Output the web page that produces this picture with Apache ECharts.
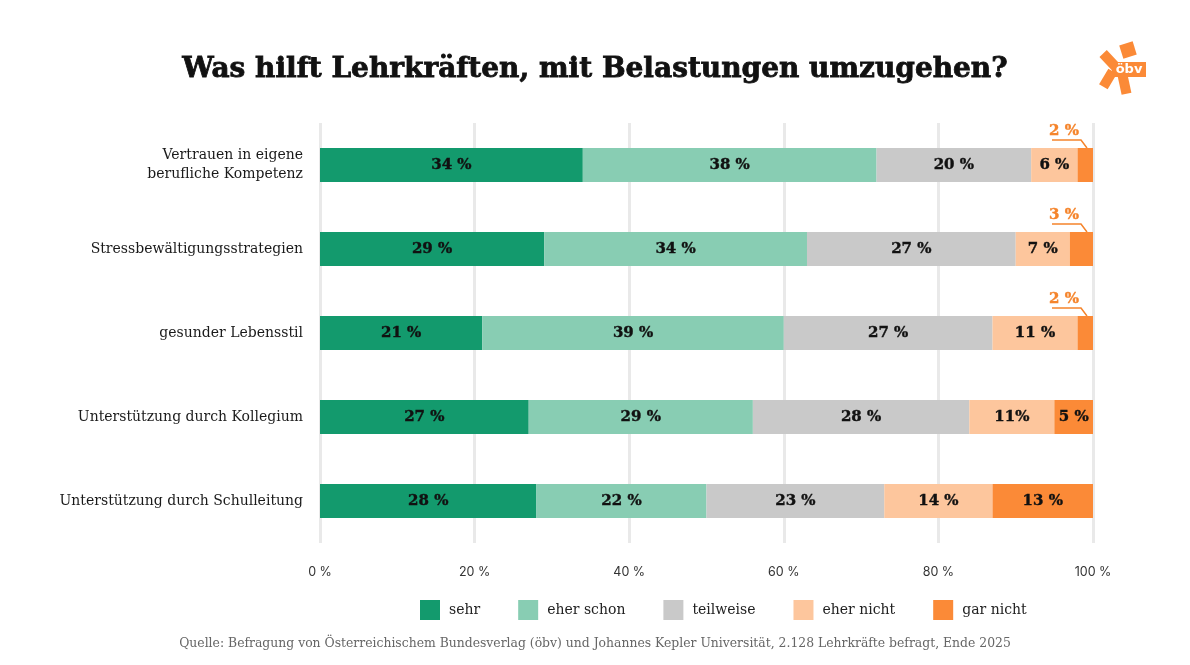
<!DOCTYPE html>
<html>
<head>
<meta charset="utf-8">
<script src="https://cdn.jsdelivr.net/npm/echarts@6/dist/echarts.min.js"></script>
<style>
  html, body { margin: 0; padding: 0; background: #fff; }
  #chart { width: 1190px; height: 665px; }
</style>
</head>
<body>
<div id="chart"></div>
<script>
// --- Daten ---
const categories = [
  'Vertrauen in eigene\nberufliche Kompetenz',
  'Stressbewältigungsstrategien',
  'gesunder Lebensstil',
  'Unterstützung durch Kollegium',
  'Unterstützung durch Schulleitung'
];
const seriesNames = ['sehr', 'eher schon', 'teilweise', 'eher nicht', 'gar nicht'];
const sehr = [34, 29, 21, 27, 28];
const eherSchon = [38, 34, 39, 29, 22];
const teilweise = [20, 27, 27, 28, 23];
const eherNicht = [6, 7, 11, 11, 14];
const garNicht = [2, 3, 2, 5, 13];
const xTicks = [0, 20, 40, 60, 80, 100];
// Zeilen, deren "gar nicht"-Wert außerhalb des Balkens beschriftet wird
const outsideRows = [0, 1, 2];

const colors = ['#139a6d', '#88cdb3', '#c9c9c9', '#fdc69d', '#fb8a37'];
const orangeText = '#f5842b';
const serif = '"DejaVu Serif", serif';

const chart = echarts.init(document.getElementById('chart'));

const barLabel = {
  show: true,
  position: 'inside',
  fontFamily: serif,
  fontWeight: 'bold',
  fontSize: 15,
  color: '#111',
  textBorderColor: '#111',
  textBorderWidth: 0.4,
  formatter: p => p.value + ' %'
};

function makeSeries(name, values, idx) {
  return {
    name: name,
    type: 'bar',
    stack: 'total',
    barWidth: 34,
    itemStyle: { color: colors[idx] },
    label: barLabel,
    emphasis: { disabled: true },
    data: values
  };
}

const series = [
  makeSeries('sehr', sehr, 0),
  makeSeries('eher schon', eherSchon, 1),
  makeSeries('teilweise', teilweise, 2),
  makeSeries('eher nicht', eherNicht, 3),
  makeSeries('gar nicht', garNicht, 4)
];
// "11%" in der Kollegium-Zeile ohne Leerzeichen
series[3].data = eherNicht.map((v, i) => i === 3 ? { value: v, label: { formatter: '11%' } } : v);
// kleine Werte: Beschriftung im Balken ausblenden
series[4].data = garNicht.map((v, i) => outsideRows.includes(i) ? { value: v, label: { show: false } } : v);

// Beschriftung außerhalb mit Führungslinie
const outsideData = outsideRows.map(i => [
  sehr[i] + eherSchon[i] + teilweise[i] + eherNicht[i] + garNicht[i], i, garNicht[i]
]);
series.push({
  name: 'gar nicht (Label)',
  type: 'custom',
  silent: true,
  data: outsideData,
  renderItem: function (params, api) {
    const end = api.coord([api.value(0), api.value(1)]);
    const x = end[0];
    const yTop = end[1] - 17;
    return {
      type: 'group',
      children: [
        {
          type: 'polyline',
          shape: { points: [[x - 6, yTop], [x - 12, yTop - 8], [x - 41, yTop - 8]] },
          style: { stroke: orangeText, lineWidth: 1.5, fill: null }
        },
        {
          type: 'text',
          style: {
            x: x - 29, y: yTop - 17,
            text: api.value(2) + ' %',
            align: 'center', verticalAlign: 'middle',
            font: 'bold 15px ' + serif,
            fill: orangeText,
            stroke: orangeText,
            lineWidth: 0.4
          }
        }
      ]
    };
  }
});

chart.setOption({
  animation: false,
  color: colors,
  title: {
    text: 'Was hilft Lehrkräften, mit Belastungen umzugehen?',
    left: 'center',
    top: 51,
    textStyle: {
      fontFamily: serif, fontWeight: 'bold', fontSize: 28, color: '#111',
      textBorderColor: '#111', textBorderWidth: 0.8
    }
  },
  grid: { left: 320, right: 97, top: 123, height: 420 },
  xAxis: {
    type: 'value',
    min: 0,
    max: 100,
    interval: 20,
    axisLine: { show: false },
    axisTick: { show: false },
    splitLine: { show: true, lineStyle: { color: '#e9e9e9', width: 3 } },
    axisLabel: {
      margin: 23,
      fontFamily: 'Inter, sans-serif',
      fontSize: 12.5,
      color: '#333',
      formatter: v => xTicks.includes(v) ? v + ' %' : ''
    }
  },
  yAxis: {
    type: 'category',
    inverse: true,
    data: categories,
    axisLine: { show: false },
    axisTick: { show: false },
    axisLabel: {
      margin: 17,
      fontFamily: serif,
      fontSize: 14,
      lineHeight: 19,
      color: '#1a1a1a'
    }
  },
  legend: {
    data: seriesNames,
    top: 595,
    left: 415,
    itemWidth: 20,
    itemHeight: 20,
    itemGap: 38,
    icon: 'rect',
    textStyle: { fontFamily: serif, fontSize: 14, color: '#222', padding: [0, 0, 0, 4] }
  },
  graphic: [
    {
      type: 'text',
      left: 'center',
      top: 638,
      style: {
        text: 'Quelle: Befragung von Österreichischem Bundesverlag (öbv) und Johannes Kepler Universität, 2.128 Lehrkräfte befragt, Ende 2025',
        font: '12.4px ' + serif,
        fill: '#666'
      }
    },
    // öbv-Logo
    {
      type: 'group',
      x: 1090,
      y: 35,
      children: [
        { type: 'rect', x: 38, y: 15, rotation: 0.3, shape: { x: -7, y: -7, width: 14, height: 14 }, style: { fill: '#fb8a37' } },
        { type: 'rect', x: 22, y: 28, rotation: -0.82, shape: { x: -13, y: -5, width: 26, height: 10 }, style: { fill: '#fb8a37' } },
        { type: 'rect', x: 18, y: 44, rotation: 1.03, shape: { x: -9, y: -5, width: 18, height: 10 }, style: { fill: '#fb8a37' } },
        { type: 'rect', x: 34, y: 47, rotation: -1.36, shape: { x: -12, y: -5, width: 24, height: 10 }, style: { fill: '#fb8a37' } },
        { type: 'rect', shape: { x: 22, y: 27, width: 34, height: 15 }, style: { fill: '#fb8a37' } },
        { type: 'text', style: { x: 39, y: 34.5, text: 'öbv', font: 'bold 13px "DejaVu Sans", sans-serif', fill: '#fff', align: 'center', verticalAlign: 'middle' } }
      ]
    }
  ],
  series: series
});
</script>
</body>
</html>
